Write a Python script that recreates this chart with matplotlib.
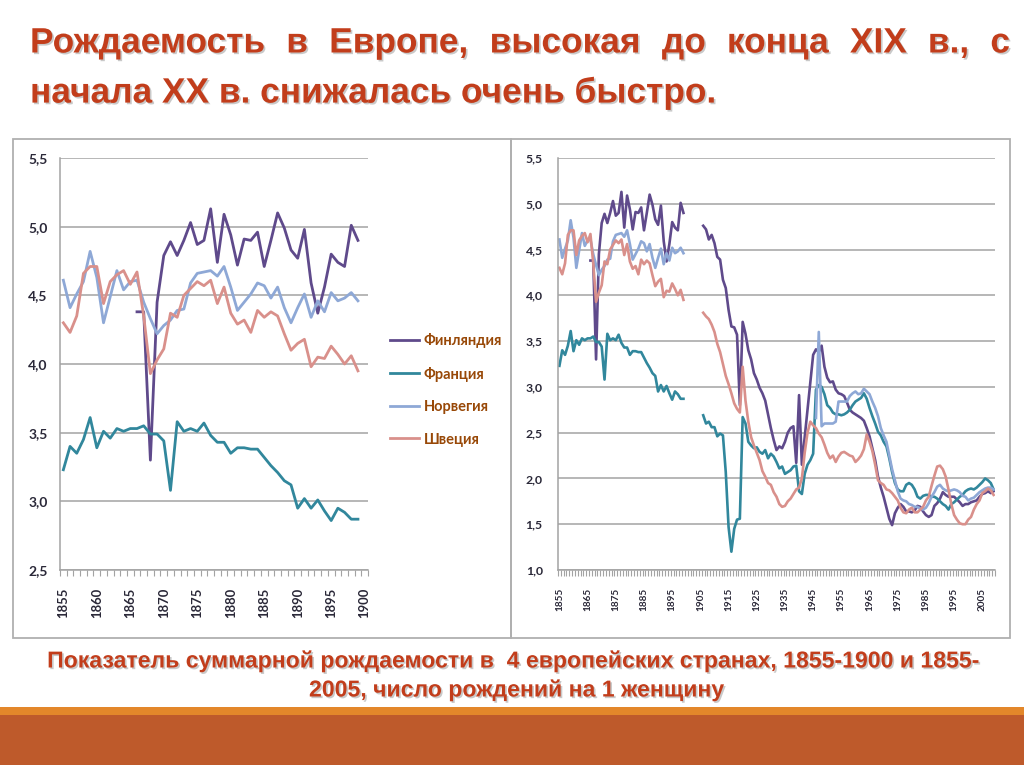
import matplotlib

matplotlib.use("Agg")
import matplotlib.pyplot as plt
import matplotlib.patheffects as pe
import numpy as np
from matplotlib.patches import Rectangle

nan = np.nan

# --- data: total fertility rate, births per woman ---------------------------
COUNTRIES = ["Финляндия", "Франция", "Норвегия", "Швеция"]
COLORS = ["#5F4A8B", "#31879C", "#8EA8D6", "#D9908B"]

YEARS_EARLY = list(range(1855, 1900))   # 1855-1899
YEARS_GAP = list(range(1900, 1906))     # no data
YEARS_LATE = list(range(1906, 2010))    # 1906-2009

FINLAND_EARLY = [nan] * 11 + [
    4.38, 4.38, 3.30, 4.45, 4.79, 4.89, 4.79, 4.90, 5.03,
    4.87, 4.90, 5.13, 4.74, 5.09, 4.94, 4.72, 4.91, 4.90, 4.96,
    4.71, 4.90, 5.10, 4.99, 4.83, 4.77, 4.98, 4.59, 4.37, 4.56,
    4.80, 4.74, 4.71, 5.01, 4.90,
]
FRANCE_EARLY = [
    3.23, 3.40, 3.35, 3.45, 3.61, 3.39, 3.51, 3.46, 3.53, 3.51,
    3.53, 3.53, 3.55, 3.49, 3.49, 3.44, 3.08, 3.58, 3.51, 3.53,
    3.51, 3.57, 3.48, 3.43, 3.43, 3.35, 3.39, 3.39, 3.38, 3.38,
    3.32, 3.26, 3.21, 3.15, 3.12, 2.95, 3.02, 2.95, 3.01, 2.93,
    2.86, 2.95, 2.92, 2.87, 2.87,
]
NORWAY_EARLY = [
    4.61, 4.41, 4.51, 4.60, 4.82, 4.63, 4.30, 4.49, 4.68, 4.54,
    4.60, 4.61, 4.45, 4.33, 4.22, 4.28, 4.32, 4.39, 4.40, 4.59,
    4.66, 4.67, 4.68, 4.64, 4.71, 4.56, 4.39, 4.45, 4.51, 4.59,
    4.57, 4.48, 4.56, 4.41, 4.30, 4.41, 4.51, 4.34, 4.46, 4.38,
    4.52, 4.46, 4.48, 4.52, 4.46,
]
SWEDEN_EARLY = [
    4.30, 4.23, 4.35, 4.66, 4.71, 4.71, 4.44, 4.60, 4.65, 4.68,
    4.58, 4.67, 4.35, 3.93, 4.03, 4.11, 4.37, 4.34, 4.50, 4.55,
    4.60, 4.57, 4.61, 4.44, 4.56, 4.37, 4.29, 4.32, 4.23, 4.39,
    4.34, 4.38, 4.35, 4.22, 4.10, 4.15, 4.18, 3.98, 4.05, 4.04,
    4.13, 4.07, 4.00, 4.06, 3.95,
]

FINLAND_LATE = [
    4.76, 4.72, 4.61, 4.66, 4.57, 4.42, 4.39, 4.17, 4.08, 3.84,
    3.66, 3.65, 3.57, 2.80, 3.71, 3.58, 3.40, 3.30, 3.15, 3.08,
    2.99, 2.93, 2.85, 2.70, 2.55, 2.42, 2.31, 2.35, 2.33, 2.40,
    2.50, 2.55, 2.57, 2.17, 2.91, 2.15, 2.45, 2.75, 3.05, 3.35,
    3.41, 3.38, 3.45, 3.22, 3.10, 3.05, 3.06, 2.97, 2.93, 2.92,
    2.90, 2.83, 2.75, 2.72, 2.70, 2.68, 2.66, 2.63, 2.55, 2.46,
    2.33, 2.20, 2.02, 1.90, 1.80, 1.68, 1.56, 1.49, 1.62, 1.68,
    1.72, 1.69, 1.64, 1.64, 1.63, 1.65, 1.70, 1.69, 1.64, 1.60,
    1.58, 1.60, 1.70, 1.73, 1.78, 1.85, 1.82, 1.80, 1.80, 1.80,
    1.77, 1.74, 1.70, 1.72, 1.72, 1.74, 1.75, 1.76, 1.80, 1.83,
    1.84, 1.86, 1.84, 1.86,
]
FRANCE_LATE = [
    2.69, 2.60, 2.62, 2.56, 2.56, 2.46, 2.49, 2.47, 2.07, 1.47,
    1.20, 1.45, 1.55, 1.56, 2.67, 2.60, 2.40, 2.36, 2.33, 2.34,
    2.29, 2.27, 2.31, 2.22, 2.27, 2.24, 2.18, 2.11, 2.13, 2.05,
    2.07, 2.09, 2.13, 2.14, 1.86, 1.83, 2.05, 2.15, 2.20, 2.27,
    2.97, 3.02, 3.00, 2.92, 2.80, 2.77, 2.72, 2.70, 2.70, 2.69,
    2.70, 2.72, 2.75, 2.80, 2.84, 2.86, 2.88, 2.93, 2.87, 2.77,
    2.68, 2.60, 2.51, 2.47, 2.40, 2.35, 2.22, 2.07, 1.95, 1.88,
    1.86, 1.86, 1.93, 1.95, 1.93, 1.88, 1.80, 1.78, 1.81, 1.82,
    1.82, 1.80, 1.80, 1.78, 1.75, 1.72, 1.70, 1.66, 1.72, 1.74,
    1.77, 1.80, 1.82, 1.86, 1.88, 1.89, 1.88, 1.90, 1.93, 1.96,
    2.00, 1.98, 1.95, 1.88,
]
NORWAY_LATE = [nan] * 40 + [
    2.66, 3.60, 2.57, 2.60, 2.60, 2.60, 2.60, 2.62, 2.84, 2.84,
    2.84, 2.84, 2.90, 2.93, 2.95, 2.92, 2.93, 2.98, 2.95, 2.92,
    2.84, 2.77, 2.68, 2.55, 2.47, 2.40, 2.25, 2.10, 1.98, 1.86,
    1.78, 1.76, 1.75, 1.72, 1.71, 1.69, 1.69, 1.67, 1.66, 1.68,
    1.73, 1.80, 1.85, 1.91, 1.93, 1.89, 1.87, 1.86, 1.87, 1.88,
    1.87, 1.85, 1.81, 1.80, 1.76, 1.78, 1.79, 1.82, 1.85, 1.87,
    1.89, 1.90, 1.90, 1.88,
]
SWEDEN_LATE = [
    3.81, 3.77, 3.74, 3.68, 3.60, 3.47, 3.38, 3.25, 3.12, 3.03,
    2.93, 2.82, 2.76, 2.72, 3.22, 2.85, 2.62, 2.45, 2.36, 2.28,
    2.20, 2.08, 2.02, 1.95, 1.93, 1.85, 1.80, 1.72, 1.69, 1.70,
    1.75, 1.78, 1.83, 1.88, 1.90, 2.00, 2.28, 2.50, 2.62, 2.58,
    2.55, 2.49, 2.45, 2.37, 2.28, 2.22, 2.25, 2.18, 2.24, 2.28,
    2.29, 2.27, 2.25, 2.24, 2.18, 2.21, 2.25, 2.32, 2.48, 2.40,
    2.30, 2.15, 1.98, 1.95, 1.93, 1.88, 1.87, 1.84, 1.80, 1.76,
    1.68, 1.63, 1.62, 1.66, 1.68, 1.63, 1.63, 1.66, 1.69, 1.76,
    1.80, 1.92, 2.03, 2.13, 2.14, 2.10, 2.02, 1.88, 1.72, 1.60,
    1.55, 1.51, 1.50, 1.50, 1.55, 1.58, 1.66, 1.72, 1.76, 1.84,
    1.86, 1.89, 1.87, 1.82,
]

TITLE_LINE1 = "Рождаемость в Европе, высокая до конца XIX в., с"
TITLE_LINE2 = "начала XX в. снижалась очень быстро."
CAPTION_LINE1 = "Показатель суммарной рождаемости в  4 европейских странах, 1855-1900 и 1855-"
CAPTION_LINE2 = "2005, число рождений на 1 женщину"

W, H = 1024, 765
RED = "#C23D1B"
GRID = "#A3A3A3"
TICK_TXT = "#2A2838"


def fx(px):
    return px / W


def fy(py):
    return 1 - py / H


def comma(v):
    return f"{v:.1f}".replace(".", ",")


def style_axes(ax, x_last, label_step, xsize, ysize, ymin, ypad):
    ax.set_xlim(1854.5, x_last + 0.5)
    ax.set_ylim(ymin, 5.5)
    yt = np.arange(ymin, 5.51, 0.5)
    ax.set_yticks(yt)
    ax.set_yticklabels([comma(v) for v in yt], fontsize=ysize, color=TICK_TXT,
                       family="Lato", fontweight="bold")
    xt = list(range(1855, x_last + 1, label_step))
    ax.set_xticks(xt)
    ax.set_xticklabels([str(y) for y in xt], rotation=90, fontsize=xsize, color=TICK_TXT,
                       family="Lato", fontweight="bold", va="top")
    ax.set_xticks(np.arange(1854.5, x_last + 1, 1.0), minor=True)
    ax.tick_params(axis="x", which="major", length=0, pad=13)
    ax.tick_params(axis="x", which="minor", length=4, width=0.8, color=GRID, direction="out")
    ax.tick_params(axis="y", length=0, pad=ypad)
    ax.yaxis.grid(True, color=GRID, linewidth=1.1)
    ax.set_axisbelow(True)
    for side in ("top", "right"):
        ax.spines[side].set_visible(False)
    for side in ("left", "bottom"):
        ax.spines[side].set_color(GRID)
        ax.spines[side].set_linewidth(1.1)


def justify(fig, text, x0, x1, ypix, **kw):
    words = text.split()
    renderer = fig.canvas.get_renderer()
    arts = [fig.text(0, fy(ypix), w, ha="left", va="center", **kw) for w in words]
    widths = [a.get_window_extent(renderer).width for a in arts]
    gap = ((x1 - x0) - sum(widths)) / (len(words) - 1)
    x = x0
    for a, w in zip(arts, widths):
        a.set_x(fx(x))
        x += w + gap


def main():
    fig = plt.figure(figsize=(W / 100, H / 100), dpi=100)
    fig.patch.set_facecolor("white")

    # frames around the two chart panels
    for x0, x1 in [(13, 511), (511, 1010)]:
        fig.add_artist(Rectangle((fx(x0), fy(638)), fx(x1) - fx(x0), (638 - 139) / H,
                                 transform=fig.transFigure, fill=False,
                                 edgecolor="#B0B0B0", linewidth=1.3))

    # bottom slide bands
    fig.add_artist(Rectangle((0, 0), 1, fy(715), transform=fig.transFigure,
                             facecolor="#BE5A2B", edgecolor="none"))
    fig.add_artist(Rectangle((0, fy(715)), 1, (715 - 707) / H, transform=fig.transFigure,
                             facecolor="#E3872A", edgecolor="none"))

    early = [FINLAND_EARLY, FRANCE_EARLY, NORWAY_EARLY, SWEDEN_EARLY]
    late = [FINLAND_LATE, FRANCE_LATE, NORWAY_LATE, SWEDEN_LATE]

    ax1 = fig.add_axes([fx(60), fy(570), (368 - 60) / W, (570 - 158) / H])
    handles = []
    for name, color, vals in zip(COUNTRIES, COLORS, early):
        (ln,) = ax1.plot(YEARS_EARLY, vals, color=color, linewidth=2.0, label=name,
                         solid_joinstyle="round")
        handles.append(ln)
    style_axes(ax1, 1900, 5, 9.4, 10.0, 2.5, 9)

    ax2 = fig.add_axes([fx(558), fy(570), (995 - 558) / W, (570 - 158) / H])
    years_all = YEARS_EARLY + YEARS_GAP + YEARS_LATE
    for color, e, l in zip(COLORS, early, late):
        vals = list(e) + [nan] * len(YEARS_GAP) + list(l)
        ax2.plot(years_all, vals, color=color, linewidth=1.9, solid_joinstyle="round")
    style_axes(ax2, 2009, 10, 7.2, 8.8, 1.0, 11)

    fig.legend(handles=handles, loc="upper left", bbox_to_anchor=(fx(390), fy(333)),
               frameon=False, borderpad=0, borderaxespad=0, handlelength=2.0,
               handletextpad=0.3, labelspacing=1.27,
               prop={"family": "Lato", "weight": "bold", "size": 10.5},
               labelcolor="#984807")

    shadow = [pe.SimplePatchShadow(offset=(1.2, -1.2), shadow_rgbFace="#888888", alpha=0.45),
              pe.Normal()]
    title_kw = dict(fontsize=25.4, fontweight="bold", color=RED, family="Liberation Sans",
                    path_effects=shadow)
    justify(fig, TITLE_LINE1, 30, 1010, 43, **title_kw)
    fig.text(fx(30), fy(93), TITLE_LINE2, ha="left", va="center", **title_kw)

    cap_kw = dict(ha="center", va="center", fontsize=16.6, fontweight="bold", color=RED,
                  family="Liberation Sans", path_effects=shadow)
    fig.text(fx(512), fy(661), CAPTION_LINE1, **cap_kw)
    fig.text(fx(516), fy(690), CAPTION_LINE2, **cap_kw)

    fig.savefig("out.png", dpi=100, facecolor="white")
    return 0


if __name__ == "__main__":
    raise SystemExit(main())
